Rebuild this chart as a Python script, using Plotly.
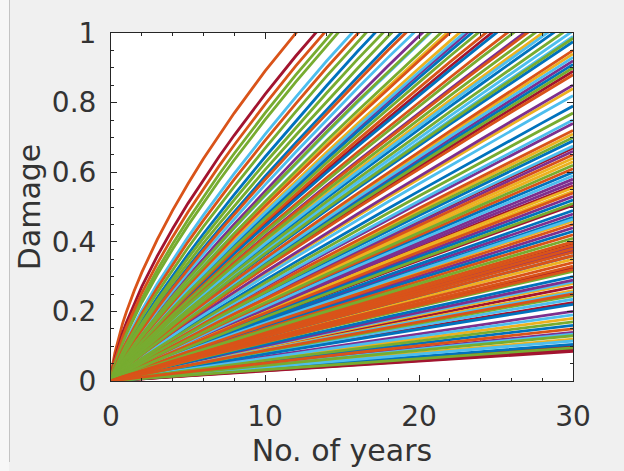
import numpy as np
import plotly.graph_objects as go

# Time grid (years) on which every damage curve is drawn
years = [0, 0.05, 0.1, 0.25, 0.5, 0.75, 1, 1.5, 2, 3, 4, 5, 6, 7, 8, 10, 12, 14, 16, 18,
         20, 22, 24, 26, 28, 30]

# Curves that reach full damage (1) before year 30: year read where they cross the top edge
blue_fail_years = [17.1, 18.8, 23.4, 25.0, 28.7]
orange_fail_years = [11.95, 13.8, 16.0, 19.1, 22.0, 24.3, 25.7, 27.0]
yellow_fail_years = [21.8, 22.6, 28.0]
purple_fail_years = [20.2, 23.1, 26.8]
green_fail_years = [14.3, 14.7, 16.5, 17.6, 18.2, 20.6, 21.4, 23.8, 26.1, 27.5, 29.3]
lightblue_fail_years = [15.6, 19.6, 20.7, 22.9, 28.3, 29.8]
crimson_fail_years = [13.25, 24.7]

# Curves still below 1 at year 30: damage read at the right edge
blue_damage_30 = [0.975, 0.91, 0.79, 0.69, 0.60, 0.52, 0.49, 0.47, 0.43, 0.36, 0.30,
                  0.22, 0.16, 0.105]
orange_damage_30 = [0.95, 0.88, 0.72, 0.65, 0.61, 0.54, 0.45, 0.42, 0.40, 0.39, 0.38,
                    0.37, 0.36, 0.34, 0.33, 0.32, 0.25, 0.15]
yellow_damage_30 = [0.94, 0.84, 0.71, 0.64, 0.63, 0.555, 0.545, 0.46, 0.40, 0.35,
                    0.28, 0.26, 0.18, 0.12]
purple_damage_30 = [0.92, 0.85, 0.74, 0.66, 0.58, 0.57, 0.53, 0.48, 0.44, 0.385,
                    0.375, 0.29, 0.20, 0.14]
green_damage_30 = [0.985, 0.90, 0.77, 0.70, 0.62, 0.51, 0.41, 0.315, 0.245,
                   0.17, 0.13, 0.095]
lightblue_damage_30 = [0.99, 0.93, 0.82, 0.75, 0.675, 0.59, 0.465, 0.285,
                       0.255, 0.235, 0.19, 0.135, 0.115]
crimson_damage_30 = [0.89, 0.67, 0.56, 0.505, 0.395, 0.325, 0.27, 0.225, 0.10,
                     0.092, 0.088, 0.085]

# Curvature (power of time) read at a few steepness levels
curv_fail_year = [11.9, 13.0, 14.5, 17.0, 21.0, 30.0]
curv_fail_exp = [0.65, 0.68, 0.74, 0.82, 0.87, 0.90]
curv_d30 = [0.08, 0.5, 1.0]
curv_d30_exp = [0.97, 0.93, 0.90]

series = [
    ("#0072BD", blue_fail_years, blue_damage_30),
    ("#D95319", orange_fail_years, orange_damage_30),
    ("#EDB120", yellow_fail_years, yellow_damage_30),
    ("#7E2F8E", purple_fail_years, purple_damage_30),
    ("#77AC30", green_fail_years, green_damage_30),
    ("#4DBEEE", lightblue_fail_years, lightblue_damage_30),
    ("#A2142F", crimson_fail_years, crimson_damage_30),
]

t = np.array(years, dtype=float)
curves = []
for color, fails, ends in series:
    items = []
    for T in fails:
        p = float(np.interp(T, curv_fail_year, curv_fail_exp))
        items.append((t / T) ** p)
    for d in ends:
        p = float(np.interp(d, curv_d30, curv_d30_exp))
        items.append(d * (t / 30.0) ** p)
    curves.append((color, items))

fig = go.Figure()
max_len = max(len(items) for _, items in curves)
# interleave colours like a default colour-order cycle
for i in range(max_len):
    for color, items in curves:
        if i < len(items):
            fig.add_trace(go.Scatter(x=t, y=items[i], mode="lines",
                                     line=dict(color=color, width=2.8),
                                     showlegend=False, hoverinfo="skip"))

L, R, T_, B = 111, 51, 33, 90
W, H = 624, 471
pw, ph = W - L - R, H - T_ - B

axis_common = dict(
    showline=True, linecolor="#262626", linewidth=1, mirror="ticks",
    ticks="inside", ticklen=6, tickcolor="#262626", tickwidth=1,
    showgrid=False, zeroline=False,
    tickfont=dict(family="DejaVu Sans", size=28, color="#333333"),
)

fig.update_layout(
    width=W, height=H,
    margin=dict(l=L, r=R, t=T_, b=B, pad=0),
    paper_bgcolor="#f0f0f0",
    plot_bgcolor="white",
    showlegend=False,
    xaxis=dict(range=[0, 30], tickvals=[0, 10, 20, 30], ticktext=["0", "10", "20", "30"],
               minor=dict(dtick=2, ticks="inside", ticklen=3, tickcolor="#262626"),
               ticklabelstandoff=10,
               title=dict(text="No. of years", standoff=6,
                          font=dict(family="DejaVu Sans", size=30, color="#333333")),
               **axis_common),
    yaxis=dict(range=[0, 1], tickvals=[0, 0.2, 0.4, 0.6, 0.8, 1],
               ticktext=["0", "0.2", "0.4", "0.6", "0.8", "1"],
               minor=dict(dtick=0.05, ticks="inside", ticklen=3, tickcolor="#262626"),
               ticklabelstandoff=8,
               title=dict(text="Damage", standoff=2,
                          font=dict(family="DejaVu Sans", size=30, color="#333333")),
               **axis_common),
)

# thin frame edge at the far left of the figure window
fig.add_shape(type="rect", xref="paper", yref="paper",
              x0=(0 - L) / pw, x1=(9 - L) / pw, y0=(B - H) / ph, y1=(H - B) / ph,
              fillcolor="#f7f7f7", line=dict(width=0), layer="below")
fig.add_shape(type="line", xref="paper", yref="paper",
              x0=(9.5 - L) / pw, x1=(9.5 - L) / pw, y0=-(B - 9) / ph, y1=(H - B) / ph,
              line=dict(color="#c4c4c4", width=1))

fig.write_html("out.html")
